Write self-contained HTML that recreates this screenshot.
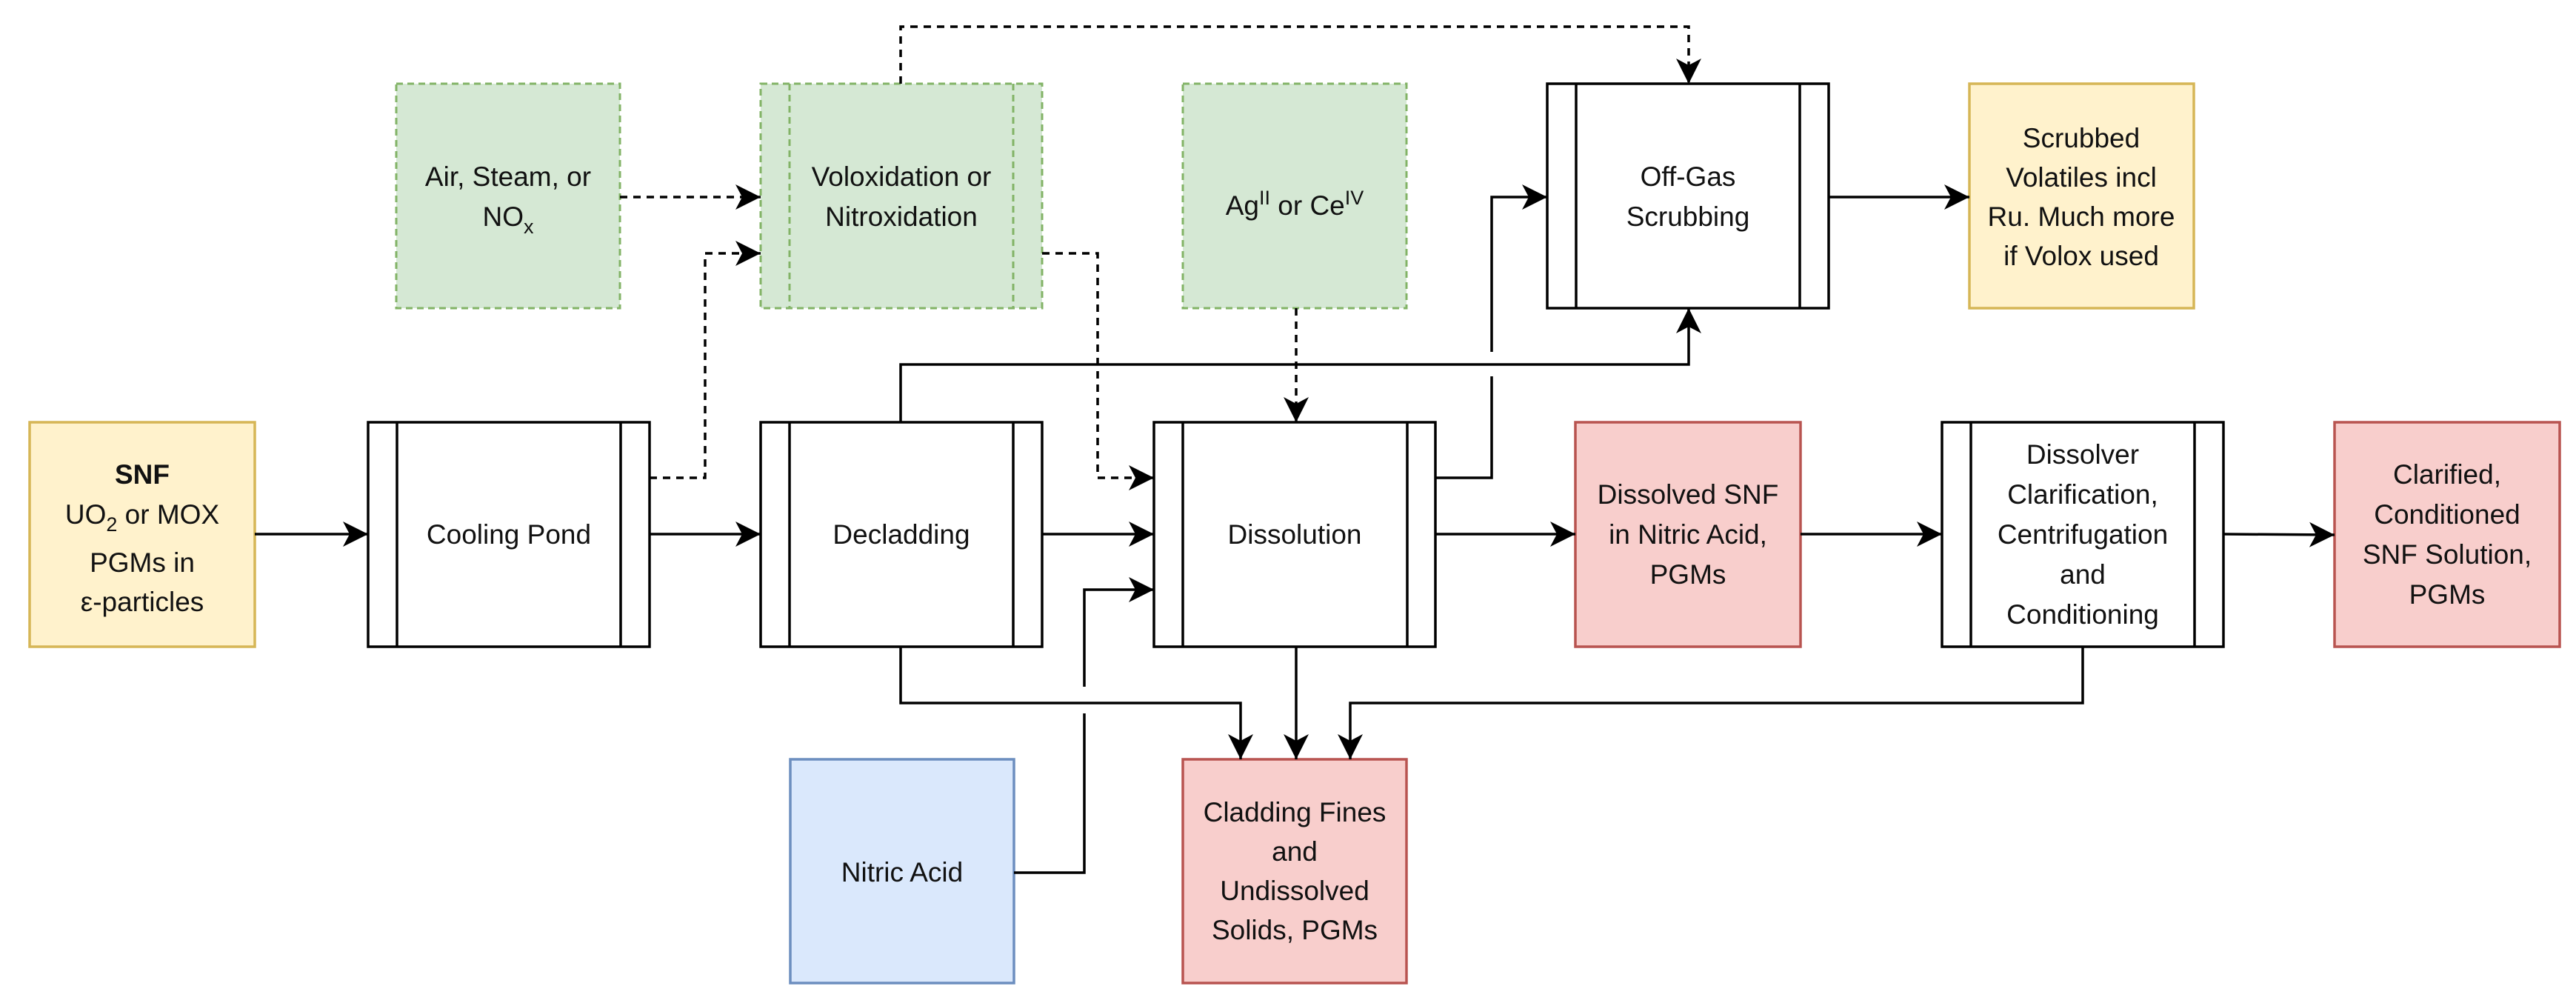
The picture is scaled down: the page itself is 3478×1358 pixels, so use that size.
<!DOCTYPE html>
<html><head><meta charset="utf-8"><style>
html,body{margin:0;padding:0;background:#fff}
svg{display:block}
text{font-family:"Liberation Sans",sans-serif;font-size:37px;fill:#111;text-anchor:middle}
</style></head><body>
<svg width="3478" height="1358" viewBox="0 0 3478 1358" xmlns="http://www.w3.org/2000/svg">
<defs>
<marker id="a" markerUnits="userSpaceOnUse" markerWidth="40" markerHeight="40" viewBox="-36 -20 40 40" refX="0" refY="0" orient="auto">
<path d="M0,0 L-34,-17 L-25,0 L-34,17 Z" fill="#000"/>
</marker>
</defs>
<g fill="none" stroke="#000" stroke-width="3.5">
<rect x="497" y="570" width="380" height="303" fill="#fff"/><line x1="536" y1="570" x2="536" y2="873"/><line x1="838" y1="570" x2="838" y2="873"/>
<rect x="1027" y="570" width="380" height="303" fill="#fff"/><line x1="1066" y1="570" x2="1066" y2="873"/><line x1="1368" y1="570" x2="1368" y2="873"/>
<rect x="1558" y="570" width="380" height="303" fill="#fff"/><line x1="1597" y1="570" x2="1597" y2="873"/><line x1="1900" y1="570" x2="1900" y2="873"/>
<rect x="2622" y="570" width="380" height="303" fill="#fff"/><line x1="2661" y1="570" x2="2661" y2="873"/><line x1="2963" y1="570" x2="2963" y2="873"/>
<rect x="2089" y="113" width="380" height="303" fill="#fff"/><line x1="2128" y1="113" x2="2128" y2="416"/><line x1="2430" y1="113" x2="2430" y2="416"/>
</g>
<g stroke-width="3.5">
<rect x="40" y="570" width="304" height="303" fill="#fff2cc" stroke="#d6b656"/>
<rect x="2659" y="113" width="303" height="303" fill="#fff2cc" stroke="#d6b656"/>
<rect x="2127" y="570" width="304" height="303" fill="#f8cecc" stroke="#b85450"/>
<rect x="3152" y="570" width="304" height="303" fill="#f8cecc" stroke="#b85450"/>
<rect x="1597" y="1025" width="302" height="302" fill="#f8cecc" stroke="#b85450"/>
<rect x="1067" y="1025" width="302" height="302" fill="#dae8fc" stroke="#6c8ebf"/>
</g>
<g stroke="#82b366" stroke-width="3" stroke-dasharray="9 6" fill="#d5e8d4">
<rect x="535" y="113" width="302" height="303"/>
<rect x="1027" y="113" width="380" height="303"/>
<line x1="1066" y1="113" x2="1066" y2="416" fill="none"/><line x1="1368" y1="113" x2="1368" y2="416" fill="none"/>
<rect x="1597" y="113" width="302" height="303"/>
</g>
<g fill="none" stroke="#000" stroke-width="3.5" marker-end="url(#a)">
<path d="M344,721 H497"/>
<path d="M877,721 H1027"/>
<path d="M1407,721 H1558"/>
<path d="M1938,721 H2127"/>
<path d="M2431,721 H2622"/>
<path d="M3002,721 L3152,722"/>
<path d="M2469,266 H2659"/>
<path d="M1216,570 V492 H2280 V416"/>
<path d="M2014,475 V266 H2089"/>
<path d="M1216,873 V949 H1675 V1025"/>
<path d="M1750,873 V1025"/>
<path d="M2812,873 V949 H1823 V1025"/>
<path d="M1464,927 V796 H1558"/>
</g>
<g fill="none" stroke="#000" stroke-width="3.5">
<path d="M1939,645 H2014 V508"/>
<path d="M1369,1178 H1464 V963"/>
</g>
<g fill="none" stroke="#000" stroke-width="3.5" stroke-dasharray="10 8" marker-end="url(#a)">
<path d="M837,266 H1027"/>
<path d="M877,645 H952 V342 H1027"/>
<path d="M1407,342 H1482 V645 H1558"/>
<path d="M1216,113 V36 H2280 V113"/>
<path d="M1750,416 V570"/>
</g>
<text x="192" y="653" style="font-weight:bold">SNF</text>
<text x="192" y="707">UO<tspan font-size="27" dy="10">2</tspan><tspan dy="-10"> or MOX</tspan></text>
<text x="192" y="772">PGMs in</text>
<text x="192" y="825">ε-particles</text>
<text x="687" y="734">Cooling Pond</text>
<text x="1217" y="734">Decladding</text>
<text x="1748" y="734">Dissolution</text>
<text x="2279" y="680">Dissolved SNF</text>
<text x="2279" y="734">in Nitric Acid,</text>
<text x="2279" y="788">PGMs</text>
<text x="2812" y="626">Dissolver</text>
<text x="2812" y="680">Clarification,</text>
<text x="2812" y="734">Centrifugation</text>
<text x="2812" y="788">and</text>
<text x="2812" y="842">Conditioning</text>
<text x="3304" y="653">Clarified,</text>
<text x="3304" y="707">Conditioned</text>
<text x="3304" y="761">SNF Solution,</text>
<text x="3304" y="815">PGMs</text>
<text x="686" y="251">Air, Steam, or</text>
<text x="686" y="305">NO<tspan font-size="27" dy="10">x</tspan></text>
<text x="1217" y="251">Voloxidation or</text>
<text x="1217" y="305">Nitroxidation</text>
<text x="1748" y="290">Ag<tspan font-size="27" dy="-14">II</tspan><tspan dy="14"> or Ce</tspan><tspan font-size="27" dy="-14">IV</tspan></text>
<text x="2279" y="251">Off-Gas</text>
<text x="2279" y="305">Scrubbing</text>
<text x="2810" y="199">Scrubbed</text>
<text x="2810" y="252">Volatiles incl</text>
<text x="2810" y="305">Ru. Much more</text>
<text x="2810" y="358">if Volox used</text>
<text x="1218" y="1190">Nitric Acid</text>
<text x="1748" y="1109">Cladding Fines</text>
<text x="1748" y="1162">and</text>
<text x="1748" y="1215">Undissolved</text>
<text x="1748" y="1268">Solids, PGMs</text>
</svg>
</body></html>
